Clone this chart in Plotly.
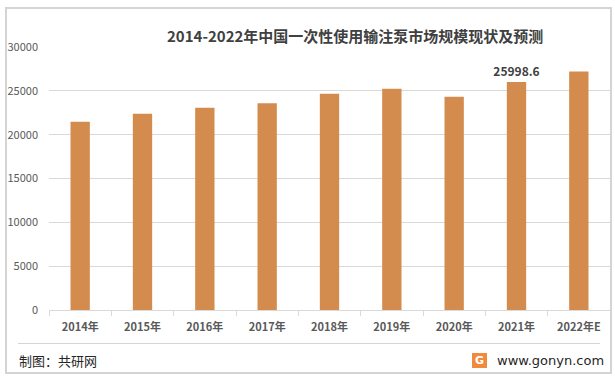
import plotly.graph_objects as go

categories = ["2014年", "2015年", "2016年", "2017年", "2018年", "2019年", "2020年", "2021年", "2022年E"]
values = [21470, 22390, 23070, 23570, 24680, 25250, 24330, 25998.6, 27200]
labeled_index = 7
y_ticks = [0, 5000, 10000, 15000, 20000, 25000, 30000]

W, H = 615, 381
L, R, T, B = 49, 5, 47, 71
PW, PH = W - L - R, H - T - B

def px(x):
    return (x - L) / PW

def py(y):
    return (H - B - y) / PH

FONT = "Noto Sans CJK SC"
BAR = "#D38C4D"

fig = go.Figure()
fig.add_trace(go.Bar(
    x=categories, y=values, marker_color=BAR, marker_line_width=0,
    text=[f"{v:g}" if i == labeled_index else "" for i, v in enumerate(values)],
    textposition="outside", cliponaxis=False, constraintext="none",
    textfont=dict(family=FONT, size=12, color="#404040", weight="bold"),
    hoverinfo="skip",
))

shapes = [
    dict(type="rect", xref="paper", yref="paper", x0=px(6), x1=px(611), y0=py(373), y1=py(8),
         line=dict(color="#D4D4D4", width=2), fillcolor="rgba(0,0,0,0)", layer="above"),
    dict(type="line", xref="paper", yref="paper", x0=px(18), x1=px(600), y0=py(343.5), y1=py(343.5),
         line=dict(color="#D4D4D4", width=1), layer="above"),
    dict(type="rect", xref="paper", yref="paper", x0=px(472), x1=px(487), y0=py(368), y1=py(353),
         line=dict(width=0), fillcolor="#F08A3C"),
]

annotations = [
    dict(text="2014-2022年中国一次性使用输注泵市场规模现状及预测", xref="paper", yref="paper",
         x=px(355), y=py(36), xanchor="center", yanchor="middle", showarrow=False,
         font=dict(family=FONT, size=15, color="#404040", weight="bold")),
    dict(text="制图：共研网", xref="paper", yref="paper", x=px(17), y=py(360),
         xanchor="left", yanchor="middle", showarrow=False,
         font=dict(family=FONT, size=13, color="#262626")),
    dict(text="www.gonyn.com", xref="paper", yref="paper", x=px(606), y=py(360),
         xanchor="right", yanchor="middle", showarrow=False,
         font=dict(family="DejaVu Sans", size=13, color="#262626")),
    dict(text="<b>G</b>", xref="paper", yref="paper", x=px(479.5), y=py(360.5),
         xanchor="center", yanchor="middle", showarrow=False,
         font=dict(family="DejaVu Sans", size=11, color="white")),
]

fig.update_layout(
    width=W, height=H,
    margin=dict(l=L, r=R, t=T, b=B, pad=0),
    paper_bgcolor="white", plot_bgcolor="white",
    bargap=0.69, showlegend=False,
    shapes=shapes, annotations=annotations,
    font=dict(family=FONT),
)
fig.update_xaxes(
    type="category", showline=True, linecolor="#D9D9D9", linewidth=1,
    ticks="outside", tickson="boundaries", ticklen=5, tickcolor="#D9D9D9",
    ticklabelstandoff=7,
    tickfont=dict(family=FONT, size=11, color="#595959", weight="bold"),
    showgrid=False,
)
fig.update_yaxes(
    range=[0, 30000], tickvals=y_ticks, ticktext=[str(v) for v in y_ticks],
    showgrid=True, gridcolor="#D9D9D9", gridwidth=1, zeroline=False,
    showline=False, ticks="", ticklabelstandoff=10,
    tickfont=dict(family=FONT, size=11, color="#595959"),
)

fig.write_html("out.html", config={"displayModeBar": False},
               post_script="document.body.style.margin='0';")
